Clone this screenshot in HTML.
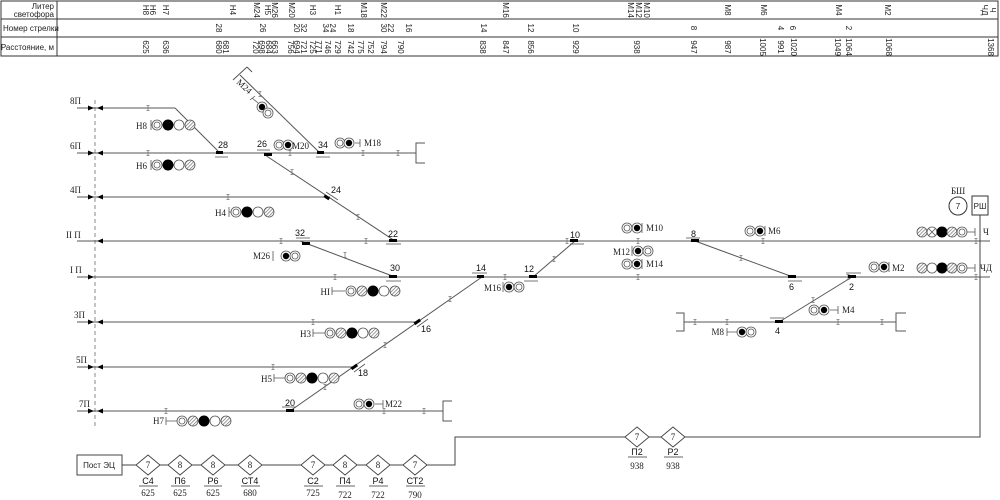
<!DOCTYPE html>
<html><head><meta charset="utf-8"><style>
html,body{margin:0;padding:0;background:#fff;}
svg{display:block;}
.t{font-family:"Liberation Sans",sans-serif;font-size:8px;fill:#222;}
.s{font-family:"Liberation Serif",serif;font-size:9px;fill:#222;}
.n{font-family:"Liberation Sans",sans-serif;font-size:9px;fill:#111;}
</style></head><body>
<svg width="1000" height="500" viewBox="0 0 1000 500" xmlns="http://www.w3.org/2000/svg">
<defs>
<pattern id="h" width="2.5" height="2.5" patternUnits="userSpaceOnUse" patternTransform="rotate(45)"><rect width="2.5" height="2.5" fill="#fff"/><line x1="0" y1="0" x2="0" y2="2.5" stroke="#666" stroke-width="1.3"/></pattern>
<g id="dbl"><circle r="5" fill="#fff" stroke="#555" stroke-width="0.8"/><circle r="3" fill="none" stroke="#555" stroke-width="0.8"/></g>
<g id="bd"><circle r="5" fill="#fff" stroke="#555" stroke-width="0.8"/><circle r="3.2" fill="#000"/></g>
<g id="blk"><circle r="5.5" fill="#000"/></g>
<g id="wht"><circle r="5" fill="#fff" stroke="#555" stroke-width="0.8"/></g>
<g id="hat"><circle r="5" fill="url(#h)" stroke="#555" stroke-width="0.8"/></g>
<g id="xc"><circle r="5" fill="#fff" stroke="#555" stroke-width="0.8"/><path d="M-3.5,-3.5L3.5,3.5M3.5,-3.5L-3.5,3.5" stroke="#555" stroke-width="0.8"/></g>
<g id="ij"><path d="M0,-2.5V2.5M-1.5,-2.5H1.5M-1.5,2.5H1.5" stroke="#777" stroke-width="0.8"/></g>
<g id="ar"><path d="M0,0L-6,-2.5V2.5Z" fill="#000"/></g>
<g id="al"><path d="M0,0L6,-2.5V2.5Z" fill="#000"/></g>
</defs>

<!-- TABLE -->
<g stroke="#333" fill="none" stroke-width="1">
<rect x="1" y="1" width="997" height="55"/>
<line x1="1" y1="19" x2="998" y2="19"/><line x1="1" y1="37" x2="998" y2="37"/>
<line x1="57" y1="1" x2="57" y2="56"/>
</g>
<text class="t" x="54" y="9" text-anchor="end">Литер</text>
<text class="t" x="54" y="17" text-anchor="end">светофора</text>
<text class="t" x="3" y="31">Номер стрелки</text>
<text class="t" x="54" y="50" text-anchor="end">Расстояние, м</text>
<g class="t" text-anchor="middle" dominant-baseline="middle">
<text transform="translate(145,10) rotate(90)">Н8</text><text transform="translate(152,10) rotate(90)">Н6</text>
<text transform="translate(165,10) rotate(90)">Н7</text><text transform="translate(232,10) rotate(90)">Н4</text>
<text transform="translate(256,10) rotate(90)">М24</text><text transform="translate(267,10) rotate(90)">Н5</text>
<text transform="translate(274,10) rotate(90)">М26</text><text transform="translate(291,10) rotate(90)">М20</text>
<text transform="translate(312,10) rotate(90)">Н3</text><text transform="translate(337,10) rotate(90)">Н1</text>
<text transform="translate(363,10) rotate(90)">М18</text><text transform="translate(383,10) rotate(90)">М22</text>
<text transform="translate(505,10) rotate(90)">М16</text><text transform="translate(630,10) rotate(90)">М14</text>
<text transform="translate(638,10) rotate(90)">М12</text><text transform="translate(646,10) rotate(90)">М10</text>
<text transform="translate(727,10) rotate(90)">М8</text><text transform="translate(763,10) rotate(90)">М6</text>
<text transform="translate(838,10) rotate(90)">М4</text><text transform="translate(887,10) rotate(90)">М2</text>
<text transform="translate(984,10) rotate(90)">ЧД</text><text transform="translate(992,10) rotate(90)">Ч</text>
<text transform="translate(218,28) rotate(90)">28</text><text transform="translate(262,28) rotate(90)">26</text>
<text transform="translate(296,28) rotate(90)">20</text><text transform="translate(303,28) rotate(90)">32</text>
<text transform="translate(325,28) rotate(90)">34</text><text transform="translate(332,28) rotate(90)">24</text>
<text transform="translate(350,28) rotate(90)">18</text><text transform="translate(383,28) rotate(90)">30</text>
<text transform="translate(390,28) rotate(90)">22</text><text transform="translate(408,28) rotate(90)">16</text>
<text transform="translate(483,28) rotate(90)">14</text><text transform="translate(530,28) rotate(90)">12</text>
<text transform="translate(575,28) rotate(90)">10</text><text transform="translate(693,28) rotate(90)">8</text>
<text transform="translate(780,28) rotate(90)">4</text><text transform="translate(792,28) rotate(90)">6</text>
<text transform="translate(848,28) rotate(90)">2</text>
<text transform="translate(145,47) rotate(90)">625</text><text transform="translate(165,47) rotate(90)">636</text>
<text transform="translate(218,47) rotate(90)">680</text><text transform="translate(225,47) rotate(90)">681</text>
<text transform="translate(255,47) rotate(90)">720</text><text transform="translate(261,47) rotate(90)">698</text>
<text transform="translate(268,47) rotate(90)">684</text><text transform="translate(274,47) rotate(90)">663</text>
<text transform="translate(290,47) rotate(90)">756</text><text transform="translate(296,47) rotate(90)">694</text>
<text transform="translate(303,47) rotate(90)">721</text><text transform="translate(312,47) rotate(90)">725</text>
<text transform="translate(318,47) rotate(90)">771</text><text transform="translate(327,47) rotate(90)">746</text>
<text transform="translate(337,47) rotate(90)">729</text><text transform="translate(350,47) rotate(90)">742</text>
<text transform="translate(360,47) rotate(90)">775</text><text transform="translate(370,47) rotate(90)">752</text>
<text transform="translate(383,47) rotate(90)">794</text><text transform="translate(400,47) rotate(90)">790</text>
<text transform="translate(482,47) rotate(90)">838</text><text transform="translate(505,47) rotate(90)">847</text>
<text transform="translate(530,47) rotate(90)">856</text><text transform="translate(575,47) rotate(90)">929</text>
<text transform="translate(636,47) rotate(90)">938</text><text transform="translate(693,47) rotate(90)">947</text>
<text transform="translate(727,47) rotate(90)">987</text><text transform="translate(762,47) rotate(90)">1005</text>
<text transform="translate(780,47) rotate(90)">991</text><text transform="translate(793,47) rotate(90)">1020</text>
<text transform="translate(837,47) rotate(90)">1049</text><text transform="translate(848,47) rotate(90)">1064</text>
<text transform="translate(888,47) rotate(90)">1068</text><text transform="translate(990,47) rotate(90)">1368</text>
</g>

<line x1="95" y1="100" x2="95" y2="428" stroke="#888" stroke-width="1" stroke-dasharray="4,3"/>

<g stroke="#555" stroke-width="1" fill="none">
<line x1="77" y1="108" x2="175" y2="108"/><line x1="175" y1="108" x2="220" y2="153"/>
<line x1="77" y1="153" x2="416" y2="153"/><path d="M425,143H416V163H425"/>
<line x1="240" y1="75" x2="320" y2="153"/><path d="M233,80L247,67M247,67L252,72"/>
<line x1="265" y1="155" x2="395" y2="241"/>
<line x1="77" y1="197" x2="330" y2="197"/>
<line x1="77" y1="241" x2="990" y2="241"/>
<line x1="300" y1="241" x2="395" y2="277"/>
<line x1="77" y1="277" x2="990" y2="277"/>
<line x1="77" y1="322" x2="418" y2="322"/>
<line x1="77" y1="367" x2="356" y2="367"/>
<line x1="77" y1="411" x2="443" y2="411"/><path d="M452,401H443V421H452"/>
<line x1="290" y1="411" x2="482" y2="277"/>
<line x1="533" y1="277" x2="575" y2="241"/>
<line x1="695" y1="241" x2="793" y2="277"/>
<line x1="852" y1="277" x2="779" y2="322"/>
<line x1="684" y1="322" x2="896" y2="322"/><path d="M676,313H684V331H676"/><path d="M906,313H896V331H906"/>
</g>

<g>
<use href="#ar" x="94" y="108"/><use href="#al" x="97" y="108"/>
<use href="#ar" x="94" y="153"/><use href="#al" x="97" y="153"/>
<use href="#ar" x="94" y="197"/><use href="#al" x="97" y="197"/>
<use href="#al" x="97" y="241"/>
<use href="#ar" x="94" y="277"/>
<use href="#ar" x="94" y="322"/><use href="#al" x="97" y="322"/>
<use href="#ar" x="94" y="367"/><use href="#al" x="97" y="367"/>
<use href="#ar" x="94" y="411"/><use href="#al" x="97" y="411"/>
</g>
<g class="s">
<text x="70" y="104">8П</text><text x="70" y="149">6П</text><text x="70" y="193">4П</text>
<text x="66" y="238">II П</text><text x="70" y="273">I П</text><text x="74" y="318">3П</text>
<text x="76" y="363">5П</text><text x="79" y="407">7П</text>
</g>

<g>
<use href="#ij" x="148" y="108"/><use href="#ij" x="148" y="153"/><use href="#ij" x="290" y="153"/>
<use href="#ij" x="363" y="153"/><use href="#ij" x="398" y="153"/><use href="#ij" x="228" y="197"/>
<use href="#ij" x="281" y="241"/><use href="#ij" x="366" y="241"/><use href="#ij" x="567" y="241"/>
<use href="#ij" x="638" y="241"/><use href="#ij" x="763" y="241"/><use href="#ij" x="976" y="241"/>
<use href="#ij" x="335" y="277"/><use href="#ij" x="505" y="277"/><use href="#ij" x="638" y="277"/>
<use href="#ij" x="848" y="277"/><use href="#ij" x="976" y="277"/><use href="#ij" x="313" y="322"/>
<use href="#ij" x="273" y="367"/><use href="#ij" x="166" y="411"/><use href="#ij" x="384" y="411"/>
<use href="#ij" x="424" y="411"/><use href="#ij" x="695" y="322"/><use href="#ij" x="727" y="322"/>
<use href="#ij" x="838" y="322"/><use href="#ij" x="882" y="322"/>
<use href="#ij" x="260" y="94"/><use href="#ij" x="292" y="172"/><use href="#ij" x="358" y="217"/>
<use href="#ij" x="345" y="255"/><use href="#ij" x="450" y="299"/><use href="#ij" x="385" y="345"/>
<use href="#ij" x="325" y="387"/><use href="#ij" x="554" y="259"/><use href="#ij" x="741" y="258"/><use href="#ij" x="813" y="300"/>
</g>

<g fill="#000" stroke="#555" stroke-width="0.8">
<rect x="216" y="151" width="7" height="3" stroke="none"/><path d="M215,157H228" fill="none"/>
<rect x="264" y="153" width="8" height="3" stroke="none"/><path d="M257,150H270" fill="none"/>
<rect x="317" y="151" width="7" height="3" stroke="none"/><path d="M316,157H330" fill="none"/>
<rect x="324" y="196" width="6" height="3" stroke="none" transform="rotate(33 327 197)"/><path d="M326,192L338,200" fill="none"/>
<rect x="389" y="239" width="8" height="3" stroke="none"/><path d="M386,244H401" fill="none"/>
<rect x="302" y="242" width="8" height="3" stroke="none"/><path d="M296,238H310" fill="none"/>
<rect x="389" y="275" width="8" height="3" stroke="none"/><path d="M386,281H401" fill="none"/>
<rect x="477" y="275" width="7" height="3" stroke="none"/><path d="M472,273H487" fill="none"/>
<rect x="414" y="320" width="7" height="3" stroke="none" transform="rotate(-35 418 322)"/><path d="M417,327L428,319" fill="none"/>
<rect x="351" y="365" width="7" height="3" stroke="none" transform="rotate(-35 355 367)"/><path d="M354,372L365,364" fill="none"/>
<rect x="286" y="409" width="8" height="3" stroke="none"/><path d="M282,407H296" fill="none"/>
<rect x="529" y="275" width="8" height="3" stroke="none"/><path d="M524,281H538" fill="none"/>
<rect x="570" y="239" width="8" height="3" stroke="none"/><path d="M570,244H584" fill="none"/>
<rect x="691" y="239" width="8" height="3" stroke="none"/><path d="M686,238H700" fill="none"/>
<rect x="788" y="275" width="8" height="3" stroke="none"/><path d="M788,281H802" fill="none"/>
<rect x="848" y="275" width="8" height="3" stroke="none"/><path d="M846,273H861" fill="none"/>
<rect x="775" y="320" width="8" height="3" stroke="none"/><path d="M770,318H784" fill="none"/>
</g>
<g class="n">
<text x="218" y="148">28</text><text x="257" y="147">26</text><text x="318" y="148">34</text>
<text x="331" y="193">24</text><text x="388" y="237">22</text><text x="295" y="236">32</text>
<text x="390" y="271">30</text><text x="476" y="271">14</text><text x="421" y="332">16</text>
<text x="358" y="376">18</text><text x="285" y="406">20</text><text x="524" y="272">12</text>
<text x="570" y="238">10</text><text x="691" y="237">8</text><text x="789" y="290">6</text>
<text x="849" y="290">2</text><text x="775" y="334">4</text>
</g>

<g stroke="#555" stroke-width="0.8" fill="none">
<path d="M151,120V130M151,125H156"/><path d="M151,160V170M151,165H156"/><path d="M229,207V217M229,212H235"/>
<path d="M273,251V261"/><path d="M332,291H345M332,287V295"/><path d="M313,333H326M313,329V337"/>
<path d="M274,378H286M274,374V382"/><path d="M166,421H177M166,417V425"/><path d="M375,404H383M383,400V408"/>
<path d="M355,143H360M360,139V147"/><path d="M503,282V292"/><path d="M642,223V233"/><path d="M632,246V256"/>
<path d="M642,259V269"/><path d="M765,226V236"/><path d="M889,262V272"/><path d="M830,310H838M838,306V314"/>
<path d="M727,332H737M727,328V336"/><path d="M967,232H975M975,228V236"/><path d="M967,268H975M975,264V272"/>
<path d="M258,103L252,98M250,100L255,96"/>
</g>
<g>
<use href="#dbl" x="157" y="125"/><use href="#blk" x="168" y="125"/><use href="#wht" x="179" y="125"/><use href="#hat" x="190" y="125"/>
<use href="#dbl" x="157" y="165"/><use href="#blk" x="168" y="165"/><use href="#wht" x="179" y="165"/><use href="#hat" x="190" y="165"/>
<use href="#dbl" x="236" y="212"/><use href="#blk" x="247" y="212"/><use href="#wht" x="258" y="212"/><use href="#hat" x="269" y="212"/>
<use href="#bd" x="262" y="107"/><use href="#dbl" x="268" y="113"/>
<use href="#dbl" x="279" y="145"/><use href="#bd" x="288" y="145"/>
<use href="#dbl" x="340" y="143"/><use href="#bd" x="349" y="143"/>
<use href="#bd" x="286" y="256"/><use href="#dbl" x="295" y="256"/>
<use href="#dbl" x="351" y="291"/><use href="#hat" x="362" y="291"/><use href="#blk" x="373" y="291"/><use href="#wht" x="384" y="291"/><use href="#hat" x="395" y="291"/>
<use href="#dbl" x="330" y="333"/><use href="#hat" x="341" y="333"/><use href="#blk" x="352" y="333"/><use href="#wht" x="363" y="333"/><use href="#hat" x="374" y="333"/>
<use href="#dbl" x="290" y="378"/><use href="#hat" x="301" y="378"/><use href="#blk" x="312" y="378"/><use href="#wht" x="323" y="378"/><use href="#hat" x="334" y="378"/>
<use href="#dbl" x="182" y="421"/><use href="#hat" x="193" y="421"/><use href="#blk" x="204" y="421"/><use href="#wht" x="215" y="421"/><use href="#hat" x="226" y="421"/>
<use href="#dbl" x="359" y="404"/><use href="#bd" x="369" y="404"/>
<use href="#bd" x="509" y="287"/><use href="#dbl" x="519" y="287"/>
<use href="#dbl" x="627" y="228"/><use href="#bd" x="637" y="228"/>
<use href="#bd" x="638" y="251"/><use href="#dbl" x="648" y="251"/>
<use href="#dbl" x="627" y="264"/><use href="#bd" x="637" y="264"/>
<use href="#dbl" x="750" y="231"/><use href="#bd" x="760" y="231"/>
<use href="#dbl" x="874" y="267"/><use href="#bd" x="884" y="267"/>
<use href="#dbl" x="814" y="310"/><use href="#bd" x="824" y="310"/>
<use href="#bd" x="742" y="332"/><use href="#dbl" x="751" y="332"/>
<use href="#hat" x="922" y="232"/><use href="#xc" x="932" y="232"/><use href="#blk" x="942" y="232"/><use href="#hat" x="952" y="232"/><use href="#dbl" x="962" y="232"/>
<use href="#hat" x="922" y="268"/><use href="#wht" x="932" y="268"/><use href="#blk" x="942" y="268"/><use href="#hat" x="952" y="268"/><use href="#dbl" x="962" y="268"/>
</g>
<g class="s">
<text x="147" y="129" text-anchor="end">Н8</text><text x="147" y="169" text-anchor="end">Н6</text><text x="226" y="216" text-anchor="end">Н4</text>
<text x="292" y="149">М20</text><text x="364" y="146">М18</text><text x="270" y="259" text-anchor="end">М26</text>
<text x="330" y="295" text-anchor="end">НI</text><text x="311" y="337" text-anchor="end">Н3</text><text x="272" y="382" text-anchor="end">Н5</text>
<text x="164" y="424" text-anchor="end">Н7</text><text x="385" y="407">М22</text><text x="501" y="291" text-anchor="end">М16</text>
<text x="646" y="231">М10</text><text x="630" y="255" text-anchor="end">М12</text><text x="646" y="267">М14</text>
<text x="768" y="234">М6</text><text x="892" y="271">М2</text><text x="842" y="313">М4</text>
<text x="724" y="335" text-anchor="end">М8</text><text x="983" y="235">Ч</text><text x="980" y="271">ЧД</text>
<text transform="translate(236,83) rotate(42)">М24</text>
<text x="951" y="194">БШ</text>
</g>
<circle cx="958" cy="206" r="9" fill="#fff" stroke="#333" stroke-width="1"/>
<text class="t" x="958" y="209" text-anchor="middle" font-size="9">7</text>
<rect x="972" y="196" width="16" height="19" fill="#fff" stroke="#333" stroke-width="1"/>
<text class="t" x="980" y="209" text-anchor="middle">РШ</text>

<g stroke="#444" stroke-width="1" fill="none">
<path d="M980,215V437H455V465H122"/>
<rect x="77" y="455" width="45" height="20"/>
</g>
<text class="t" x="99" y="468" text-anchor="middle" font-size="7">Пост ЭЦ</text>
<g stroke="#444" stroke-width="0.9" fill="#fff">
<path d="M136,465l12,-10l12,10l-12,10z"/><path d="M168,465l12,-10l12,10l-12,10z"/>
<path d="M201,465l12,-10l12,10l-12,10z"/><path d="M238,465l12,-10l12,10l-12,10z"/>
<path d="M301,465l12,-10l12,10l-12,10z"/><path d="M333,465l12,-10l12,10l-12,10z"/>
<path d="M366,465l12,-10l12,10l-12,10z"/><path d="M403,465l12,-10l12,10l-12,10z"/>
<path d="M625,437l12,-10l12,10l-12,10z"/><path d="M661,437l12,-10l12,10l-12,10z"/>
</g>
<g class="s" text-anchor="middle" font-size="8">
<text x="148" y="468">7</text><text x="180" y="468">8</text><text x="213" y="468">8</text><text x="250" y="468">8</text>
<text x="313" y="468">7</text><text x="345" y="468">8</text><text x="378" y="468">8</text><text x="415" y="468">7</text>
<text x="637" y="440">7</text><text x="673" y="440">7</text>
</g>
<g stroke="#333" stroke-width="0.8">
<path d="M139,486H158M171,486H190M204,486H222M241,486H260M304,486H323M336,486H355M369,486H388M406,486H425M628,457H647M664,457H683"/>
</g>
<g class="n" text-anchor="middle" font-size="11">
<text x="148" y="484">С4</text><text x="180" y="484">П6</text><text x="213" y="484">Р6</text><text x="250" y="484">СТ4</text>
<text x="313" y="484">С2</text><text x="345" y="484">П4</text><text x="378" y="484">Р4</text><text x="415" y="484">СТ2</text>
<text x="637" y="455">П2</text><text x="673" y="455">Р2</text>
</g>
<g class="s" text-anchor="middle" font-size="10">
<text x="148" y="496">625</text><text x="180" y="496">625</text><text x="213" y="496">625</text><text x="250" y="496">680</text>
<text x="313" y="496">725</text><text x="345" y="498">722</text><text x="378" y="498">722</text><text x="415" y="498">790</text>
<text x="637" y="469">938</text><text x="673" y="469">938</text>
</g>
</svg>
</body></html>
